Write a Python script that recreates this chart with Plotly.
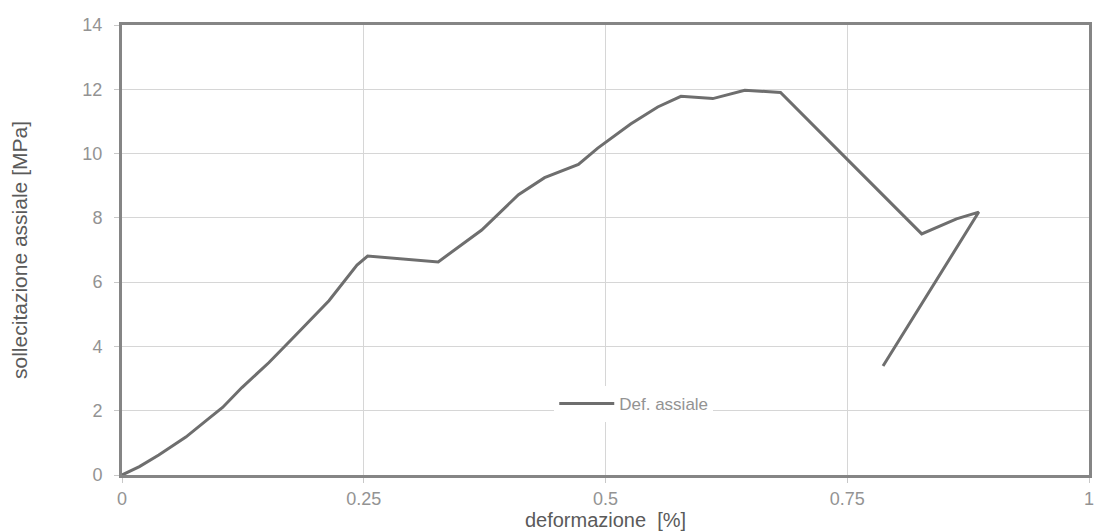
import plotly.graph_objects as go

# deformazione [%]
deformazione = [0.0, 0.018, 0.038, 0.066, 0.087, 0.104, 0.124, 0.152, 0.178,
                0.214, 0.243, 0.254, 0.327, 0.372, 0.41, 0.437, 0.472, 0.492,
                0.526, 0.554, 0.578, 0.611, 0.644, 0.681, 0.75, 0.827, 0.863,
                0.886, 0.787]
# sollecitazione assiale [MPa]
sollecitazione = [0.0, 0.26, 0.62, 1.18, 1.69, 2.10, 2.72, 3.5, 4.3,
                  5.42, 6.53, 6.81, 6.63, 7.62, 8.72, 9.25, 9.66, 10.17,
                  10.92, 11.45, 11.78, 11.71, 11.97, 11.9, 9.82, 7.5, 7.97,
                  8.18, 3.39]

x_ticks = [0, 0.25, 0.5, 0.75, 1]
x_labels = ["0", "0.25", "0.5", "0.75", "1"]
y_ticks = [0, 2, 4, 6, 8, 10, 12, 14]

fig = go.Figure()
fig.add_trace(go.Scatter(
    x=deformazione, y=sollecitazione, mode="lines", name="Def. assiale",
    line=dict(color="#6e6e6e", width=3),
))

font_family = "Liberation Sans, Arial, sans-serif"
fig.update_layout(
    width=1096, height=531,
    margin=dict(l=122, r=7, t=25, b=56, autoexpand=False),
    paper_bgcolor="white", plot_bgcolor="white",
    font=dict(family=font_family, color="#939393", size=18),
    showlegend=True,
    legend=dict(x=0.447, y=0.158, xanchor="left", yanchor="middle",
                bgcolor="white", borderwidth=0,
                font=dict(size=17, color="#939393", family=font_family),
                itemwidth=55),
)
fig.update_xaxes(
    range=[0, 1], tickvals=x_ticks, ticktext=x_labels,
    showgrid=True, gridcolor="#d6d6d6", gridwidth=1,
    showline=True, linecolor="#858585", linewidth=3, mirror=True,
    ticks="outside", ticklen=5, tickcolor="#c8c8c8",
    zeroline=False, automargin=False, ticklabeloverflow="allow",
    title=dict(text="deformazione  [%]", standoff=0,
               font=dict(size=20, color="#5a5a5a", family=font_family)),
)
fig.update_yaxes(
    range=[0, 14], tickvals=y_ticks,
    showgrid=True, gridcolor="#d6d6d6", gridwidth=1,
    showline=True, linecolor="#858585", linewidth=3, mirror=True,
    ticks="outside", ticklen=5, tickcolor="#c8c8c8",
    ticklabelstandoff=8,
    zeroline=False, automargin=False,
    title=dict(text="sollecitazione assiale [MPa]", standoff=50,
               font=dict(size=21, color="#5a5a5a", family=font_family)),
)

fig.write_html("out.html",
               config={"displayModeBar": False},
               post_script="document.body.style.margin='0';")
